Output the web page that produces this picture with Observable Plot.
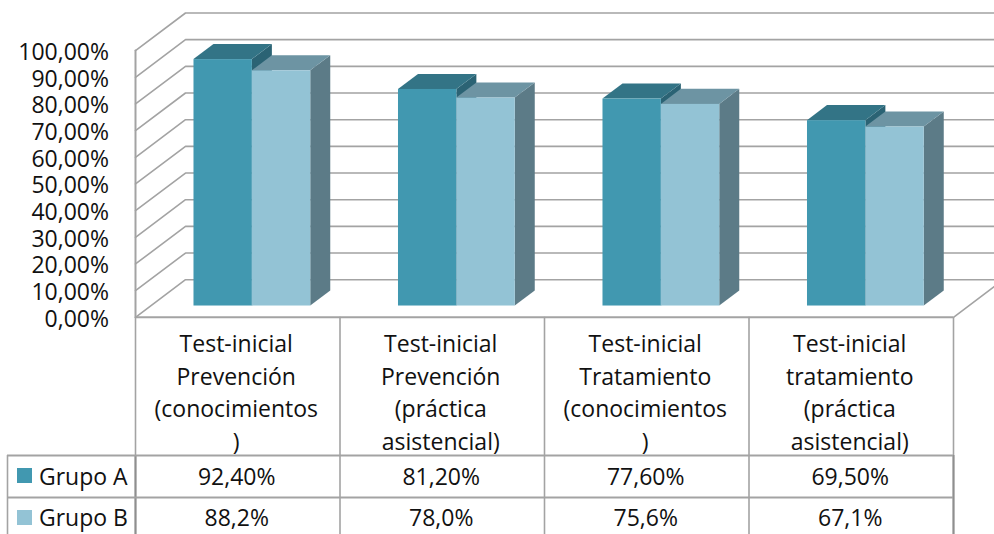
<!DOCTYPE html>
<html><head><meta charset="utf-8">
<script src="https://cdn.jsdelivr.net/npm/d3@7"></script>
<script src="https://cdn.jsdelivr.net/npm/@observablehq/plot@0.6"></script>
<style>html,body{margin:0;padding:0;background:#fff}svg{display:block}</style>
</head><body><div id="chart"></div>
<script>
const categories = [
  "Test-inicial\nPrevención\n(conocimientos\n)",
  "Test-inicial\nPrevención\n(práctica\nasistencial)",
  "Test-inicial\nTratamiento\n(conocimientos\n)",
  "Test-inicial\ntratamiento\n(práctica\nasistencial)"
];
const grupoA = [92.4, 81.2, 77.6, 69.5];
const grupoB = [88.2, 78.0, 75.6, 67.1];
const grupoALabels = ["92,40%", "81,20%", "77,60%", "69,50%"];
const grupoBLabels = ["88,2%", "78,0%", "75,6%", "67,1%"];
const seriesNames = ["Grupo A", "Grupo B"];
const yTicks = [0, 10, 20, 30, 40, 50, 60, 70, 80, 90, 100];
const yTickLabels = ["0,00%","10,00%","20,00%","30,00%","40,00%","50,00%","60,00%","70,00%","80,00%","90,00%","100,00%"];

// Layout, all in scale units: x = category widths, y = percentage points
const W = 994, H = 534, FONT = "'Open Sans', sans-serif", TXT = "#111", FS = 23;
const pxPerCat = 204.5, pxPerPct = 2.667, x0px = 135, y0px = 316.8;
const xDomain = [-x0px / pxPerCat, (W - x0px) / pxPerCat];
const yDomain = [(y0px - H) / pxPerPct, y0px / pxPerPct];
const wallX = 50 / pxPerCat, wallY = 37.6 / pxPerPct;
const inset = 0.3, bar3d = 0.4;
const barStart = 0.286, barW = 0.2855;
const n = categories.length;
const tableLeft = xDomain[0] + 7 / pxPerCat;
const pct = px => (y0px - px) / pxPerPct, cx = px => (px - x0px) / pxPerCat;
const rowCat = pct(390), rowLines = [pct(455), pct(497)], rowA = pct(477), rowB = pct(518.5);

const grid = yTicks.flatMap(v => [
  {v, x: 0, y: v},
  {v, x: wallX, y: v + wallY},
  {v, x: xDomain[1], y: v + wallY}
]);

const series = [
  {name: seriesNames[0], values: grupoA, off: 0, front: "#4198b0", top: "#337486", side: "#2b6374"},
  {name: seriesNames[1], values: grupoB, off: barW, front: "#93c3d5", top: "#6d94a3", side: "#5c7b87"}
];
const bars = series.flatMap(s => s.values.map((v, i) => {
  const x1 = i + barStart + s.off, x2 = x1 + barW, base = inset * wallY;
  return {id: s.name + i, s, v, x1, x2, base, top: v + base};
}));
const sx = bar3d * wallX, sy = bar3d * wallY;
const sidePts = bars.flatMap(b => [
  {id: b.id, x: b.x2, y1: b.base, y2: b.top, fill: b.s.side},
  {id: b.id, x: b.x2 + sx, y1: b.base + sy, y2: b.top + sy, fill: b.s.side}
]);
const topPts = bars.flatMap(b => [
  {id: b.id, y: b.top, x1: b.x1, x2: b.x2, fill: b.s.top},
  {id: b.id, y: b.top + sy, x1: b.x1 + sx, x2: b.x2 + sx, fill: b.s.top}
]);
const perSeries = (rows, name) => rows.filter(r => r.id.startsWith(name));

const barMarks = series.flatMap(s => [
  Plot.areaY(perSeries(sidePts, s.name), {x: "x", y1: "y1", y2: "y2", z: "id", fill: "fill"}),
  Plot.areaX(perSeries(topPts, s.name), {y: "y", x1: "x1", x2: "x2", z: "id", fill: "fill"}),
  Plot.rectY(bars.filter(b => b.s === s), {x1: "x1", x2: "x2", y1: "base", y2: "top", fill: s.front})
]);

const colLines = d3.range(n + 1);
const LINE = "#a3a3a3";
const rowLabels = [grupoALabels, grupoBLabels];

const chart = Plot.plot({
  width: W, height: H,
  marginLeft: 0, marginRight: 0, marginTop: 0, marginBottom: 0,
  x: {domain: xDomain, range: [0, W], axis: null},
  y: {domain: yDomain, range: [H, 0], axis: null},
  style: {background: "#fff", fontFamily: FONT},
  marks: [
    Plot.line(grid, {x: "x", y: "y", z: "v", stroke: LINE, strokeWidth: 1.6}),
    Plot.line([{x: 0, y: 0}, {x: 0, y: 100}], {x: "x", y: "y", stroke: LINE, strokeWidth: 2}),
    Plot.line([{x: n, y: 0}, {x: n + wallX * 0.84, y: wallY * 0.84}], {x: "x", y: "y", stroke: LINE, strokeWidth: 1.6}),
    ...barMarks,
    // data table
    Plot.ruleY([0], {x1: 0, x2: n, stroke: LINE, strokeWidth: 2}),
    Plot.ruleX(colLines, {y1: yDomain[0], y2: 0, stroke: LINE, strokeWidth: 1.6}),
    Plot.ruleX([0, n], {y1: yDomain[0], y2: rowLines[0], stroke: "#8f8f8f", strokeWidth: 2}),
    Plot.ruleX([tableLeft], {y1: yDomain[0], y2: rowLines[0], stroke: LINE, strokeWidth: 1.6}),
    Plot.ruleY(rowLines, {x1: tableLeft, x2: n, stroke: LINE, strokeWidth: 2}),
    Plot.text(categories, {x: (d, i) => i + 0.5, y: rowCat, dx: -1.5, text: d => d, fontSize: FS, lineHeight: 32.5 / FS, fill: TXT}),
    ...rowLabels.map((labels, r) => Plot.text(labels, {
      x: (d, i) => i + 0.5, y: r ? rowB : rowA, dx: -1, text: d => d, fontSize: FS, fill: TXT
    })),
    Plot.rect(series, {
      x1: cx(17), x2: cx(32),
      y1: (d, i) => pct(i ? 525 : 483),
      y2: (d, i) => pct(i ? 510 : 468),
      fill: "front"
    }),
    Plot.text(seriesNames, {x: cx(38.5), y: (d, i) => i ? rowB : rowA, text: d => d, textAnchor: "start", fontSize: FS, fill: TXT}),
    // value axis
    Plot.text(yTicks, {x: cx(108.5), y: d => d, text: (d, i) => yTickLabels[i], textAnchor: "end", dy: 2, fontSize: FS, fill: TXT})
  ]
});
document.getElementById("chart").append(chart);
</script></body></html>
